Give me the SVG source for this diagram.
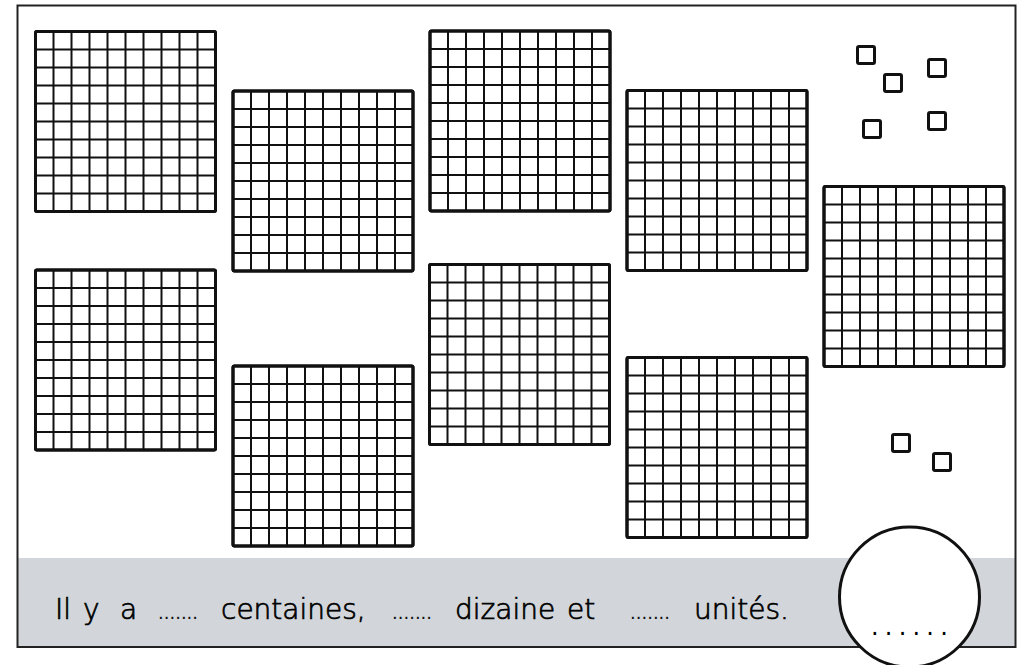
<svg xmlns="http://www.w3.org/2000/svg" xmlns:xlink="http://www.w3.org/1999/xlink" width="1023" height="665" viewBox="0 0 1023 665">
<style>
.grid-in{fill:none;stroke:#111;stroke-width:2}
.grid-out{fill:#fff;stroke:#111;stroke-width:3}
.unit{fill:#fff;stroke:#111;stroke-width:3}
.txt{font-family:"DejaVu Sans","Liberation Sans",sans-serif;font-size:28px;font-weight:200;fill:#000;stroke:#000;stroke-width:0.7}
.dots{font-family:"DejaVu Sans","Liberation Sans",sans-serif;font-size:18px;fill:#111}
.bigdots{font-family:"DejaVu Sans","Liberation Sans",sans-serif;font-size:24px;letter-spacing:6.2px;fill:#000}
</style>
<defs>
<g id="hundred">
<rect class="grid-out" x="0" y="0" width="180" height="180" rx="1.5"/>
<path class="grid-in" d="M18 0V180M36 0V180M54 0V180M72 0V180M90 0V180M108 0V180M126 0V180M144 0V180M162 0V180M0 18H180M0 36H180M0 54H180M0 72H180M0 90H180M0 108H180M0 126H180M0 144H180M0 162H180"/>
<rect x="0" y="0" width="180" height="180" rx="1.5" fill="none" stroke="#111" stroke-width="3"/>
</g>
</defs>
<rect x="0" y="0" width="1023" height="665" fill="#fff"/>
<g id="band"><rect x="18" y="558" width="997" height="89" fill="#d2d6da"/></g>
<g id="frame"><rect x="17.5" y="5.5" width="998" height="641.5" fill="none" stroke="#222" stroke-width="2"/></g>
<g id="h1"><use xlink:href="#hundred" x="35.5" y="31.5"/></g>
<g id="h2"><use xlink:href="#hundred" x="233" y="91"/></g>
<g id="h3"><use xlink:href="#hundred" x="430" y="31"/></g>
<g id="h4"><use xlink:href="#hundred" x="627" y="90.5"/></g>
<g id="h5"><use xlink:href="#hundred" x="824" y="186.5"/></g>
<g id="h6"><use xlink:href="#hundred" x="35.5" y="270"/></g>
<g id="h7"><use xlink:href="#hundred" x="233" y="366"/></g>
<g id="h8"><use xlink:href="#hundred" x="429.5" y="264.5"/></g>
<g id="h9"><use xlink:href="#hundred" x="627" y="357.5"/></g>
<g id="u1"><rect class="unit" x="857.5" y="46.5" width="17" height="17" rx="1.5"/></g>
<g id="u2"><rect class="unit" x="884.5" y="74.5" width="17" height="17" rx="1.5"/></g>
<g id="u3"><rect class="unit" x="928.5" y="59.5" width="17" height="17" rx="1.5"/></g>
<g id="u4"><rect class="unit" x="863.5" y="120.5" width="17" height="17" rx="1.5"/></g>
<g id="u5"><rect class="unit" x="928.5" y="112.5" width="17" height="17" rx="1.5"/></g>
<g id="u6"><rect class="unit" x="892.5" y="434.5" width="17" height="17" rx="1.5"/></g>
<g id="u7"><rect class="unit" x="933.5" y="453.5" width="17" height="17" rx="1.5"/></g>
<g id="sentence">
<text class="txt" y="618.5"><tspan x="55">Il</tspan><tspan x="83">y</tspan><tspan x="120">a</tspan></text>
<text class="dots" x="158" y="618.5">.......</text>
<text class="txt" x="221" y="618.5">centaines,</text>
<text class="dots" x="392" y="618.5">.......</text>
<text class="txt" x="455" y="618.5">dizaine</text>
<text class="txt" x="567" y="618.5">et</text>
<text class="dots" x="630" y="618.5">.......</text>
<text class="txt" x="694" y="618.5">unités.</text>
</g>
<g id="answer">
<circle cx="909.5" cy="597" r="70" fill="#fff" stroke="#111" stroke-width="3"/>
<text class="bigdots" x="871" y="635">......</text>
</g>
</svg>
